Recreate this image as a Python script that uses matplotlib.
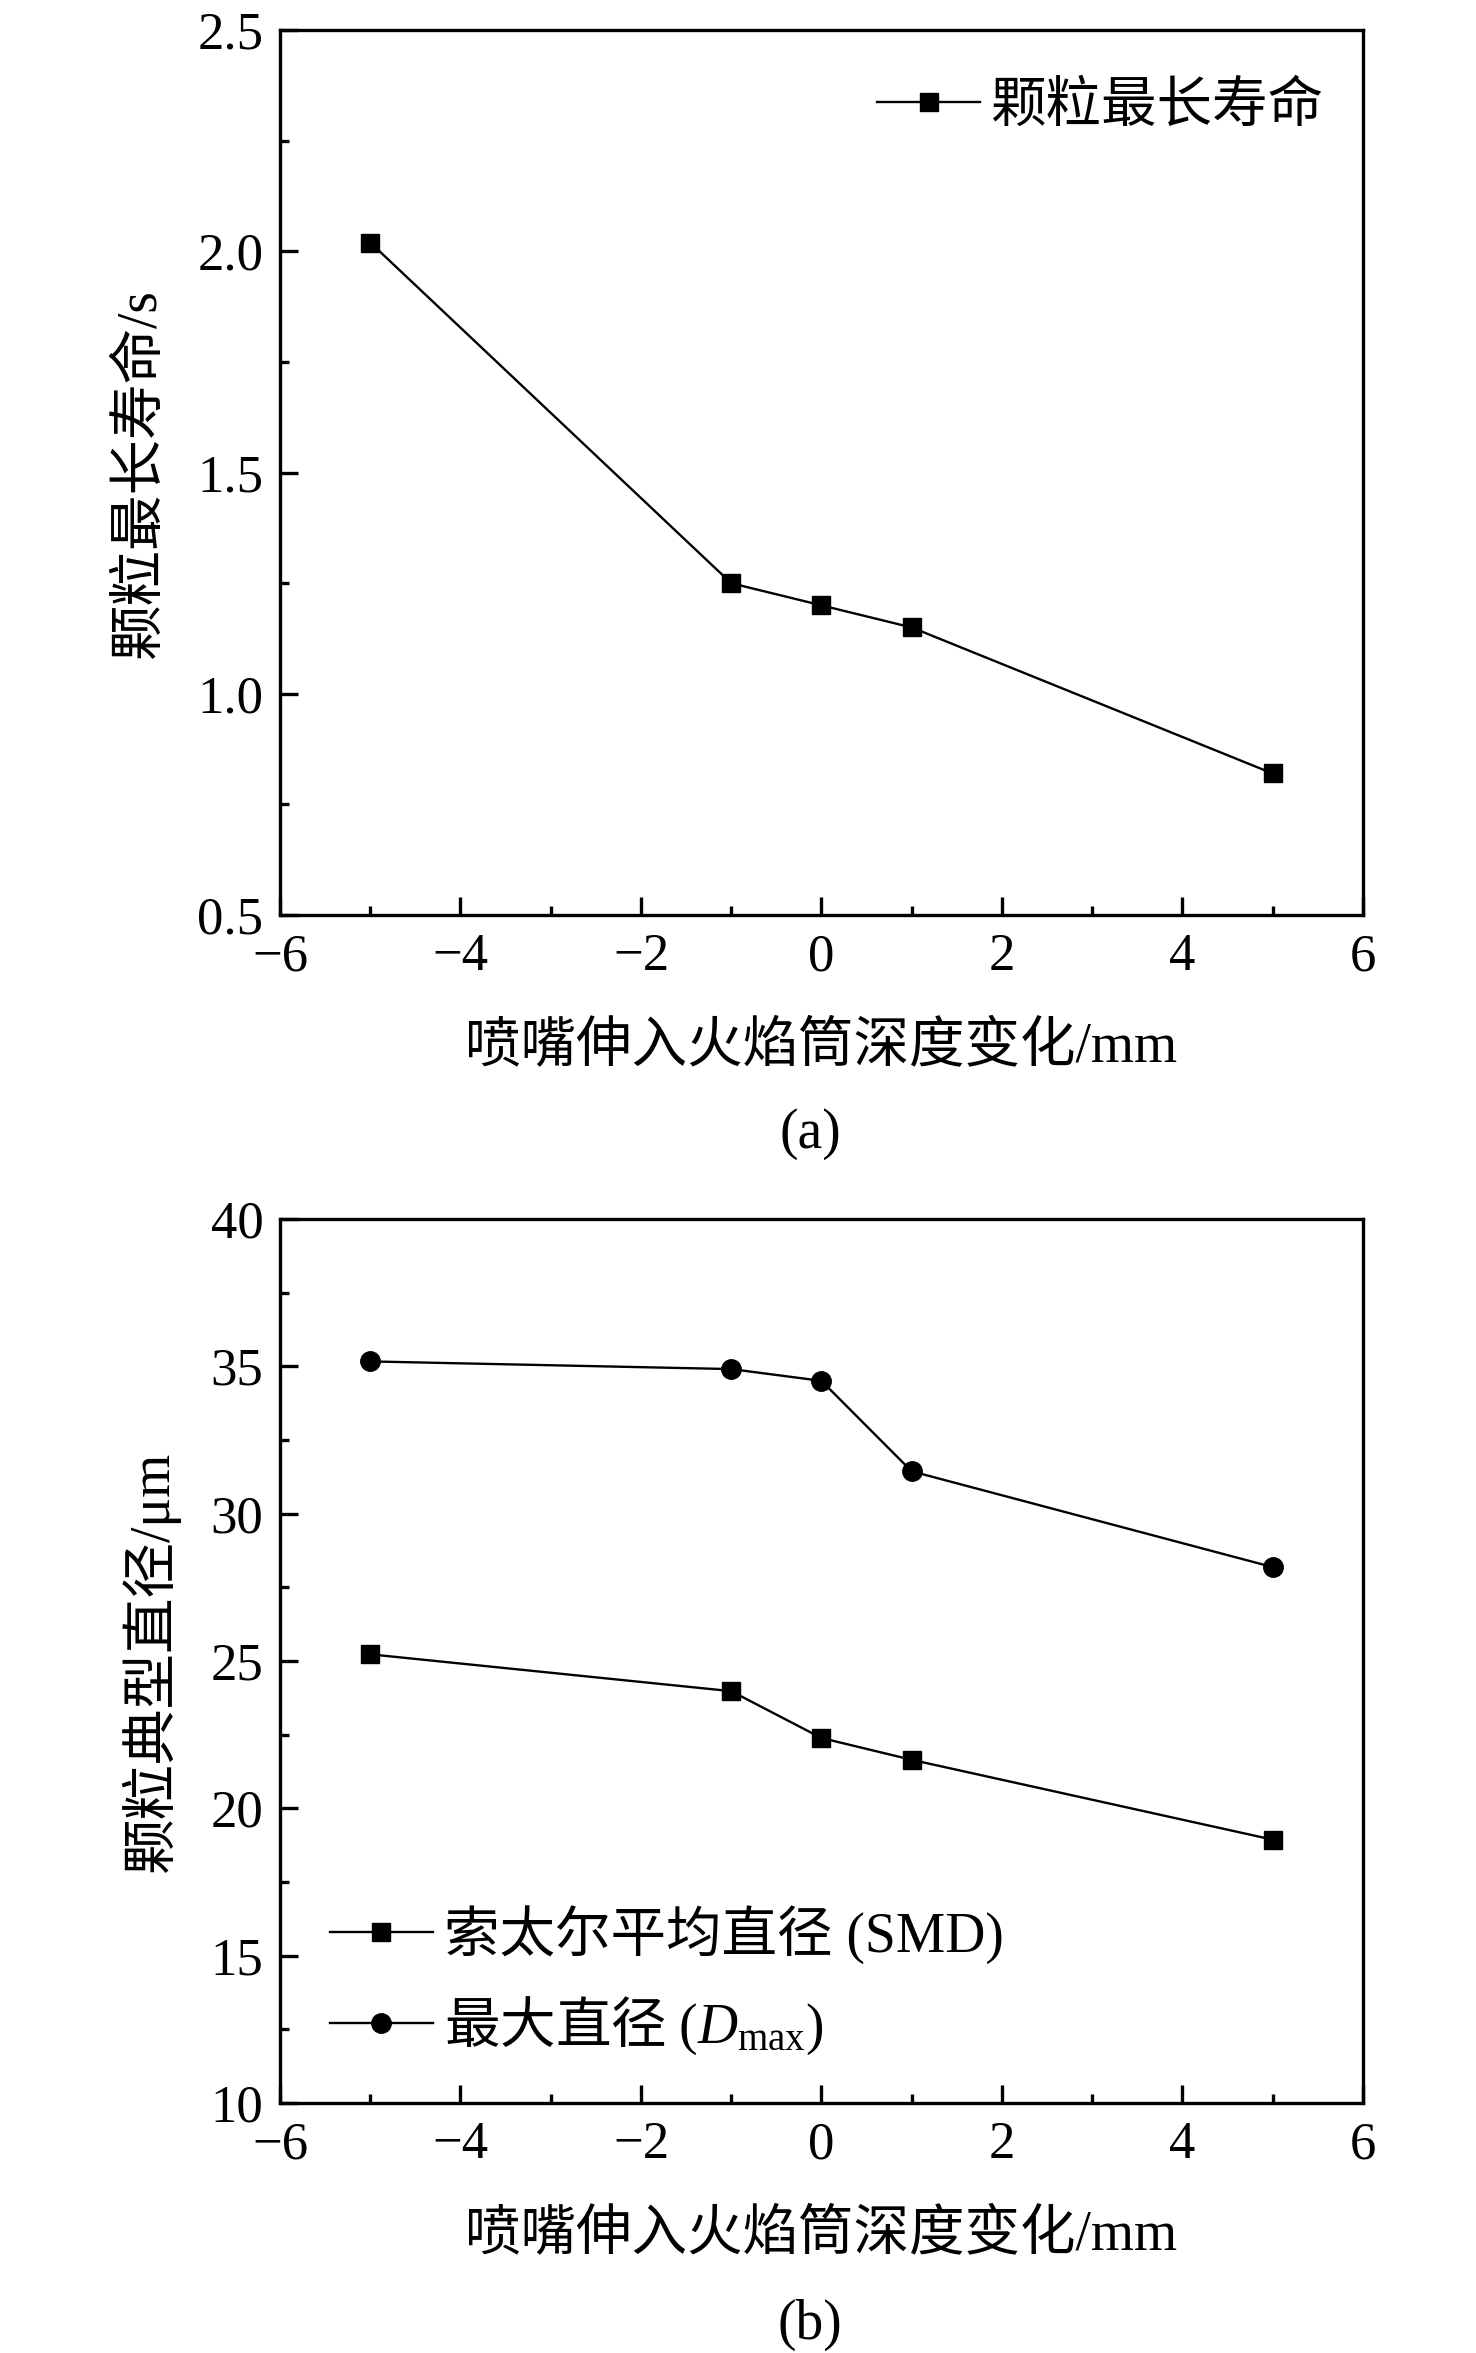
import matplotlib
matplotlib.use("Agg")
import matplotlib.pyplot as plt
from matplotlib.ticker import MultipleLocator

plt.rcParams['font.family'] = ['Liberation Serif', 'Noto Sans CJK SC']
plt.rcParams['mathtext.fontset'] = 'custom'
plt.rcParams['mathtext.rm'] = 'Liberation Serif'
plt.rcParams['mathtext.it'] = 'Liberation Serif:italic'

# data
depth = [-5, -1, 0, 1, 5]
life_max = [2.02, 1.25, 1.20, 1.15, 0.82]
smd = [25.23, 23.98, 22.39, 21.65, 18.94]
d_max = [35.17, 34.91, 34.51, 31.44, 28.19]

xlabel = '喷嘴伸入火焰筒深度变化/mm'
FS = 38      # tick labels
FS_CJK = 40  # labels / legend


def style_axis(ax, ymajor, yminor):
    ax.set_xlim(-6, 6)
    ax.xaxis.set_major_locator(MultipleLocator(2))
    ax.xaxis.set_minor_locator(MultipleLocator(1))
    ax.yaxis.set_major_locator(MultipleLocator(ymajor))
    ax.yaxis.set_minor_locator(MultipleLocator(yminor))
    ax.tick_params(which='both', direction='in', top=False, right=False, width=2.4)
    ax.tick_params(which='major', length=13, labelsize=FS)
    ax.tick_params(which='minor', length=6.5)
    ax.tick_params(axis='x', pad=13)
    ax.tick_params(axis='y', pad=12)
    for sp in ax.spines.values():
        sp.set_linewidth(2.4)
    ax.set_xlabel(xlabel, fontsize=FS_CJK, labelpad=29)


fig = plt.figure(figsize=(14.76, 23.53), dpi=100)

# (a)
ax1 = fig.add_axes([0.1897, 0.6111, 0.7337, 0.3761])
ax1.plot(depth, life_max, color='black', lw=1.7, marker='s', ms=13,
         label='颗粒最长寿命')
ax1.set_ylim(0.5, 2.5)
style_axis(ax1, 0.5, 0.25)
ax1.set_ylabel('颗粒最长寿命/s', fontsize=FS_CJK, labelpad=22)
ax1.legend(loc='upper right', frameon=False, fontsize=FS_CJK, handlelength=1.85,
           handletextpad=0.2, borderaxespad=0.3, bbox_to_anchor=(1.0, 0.986))
fig.text(0.549, 1 - 1134 / 2353, '(a)', fontsize=FS_CJK, ha='center', va='center')

# (b)
ax2 = fig.add_axes([0.1897, 0.1062, 0.7337, 0.3757])
ax2.plot(depth, smd, color='black', lw=1.7, marker='s', ms=13,
         label='索太尔平均直径 (SMD)')
ax2.plot(depth, d_max, color='black', lw=1.7, marker='o', ms=14,
         label='最大直径 $\\mathrm{(}\\mathit{D}_{\\mathrm{max}}\\mathrm{)}$')
ax2.set_ylim(10, 40)
style_axis(ax2, 5, 2.5)
ax2.set_ylabel('颗粒典型直径/μm', fontsize=FS_CJK, labelpad=22)
leg = ax2.legend(loc='lower left', frameon=False, fontsize=FS_CJK, handlelength=1.85,
                 handletextpad=0.2, borderaxespad=0.5, labelspacing=0.55,
                 bbox_to_anchor=(0.0, -0.004))
# mathtext has no font fallback, so the CJK text of this label uses the CJK font
leg.get_texts()[1].set_fontfamily(['Noto Sans CJK SC'])
fig.text(0.549, 1 - 2325 / 2353, '(b)', fontsize=FS_CJK, ha='center', va='center')

fig.savefig('out.png', dpi=100)
